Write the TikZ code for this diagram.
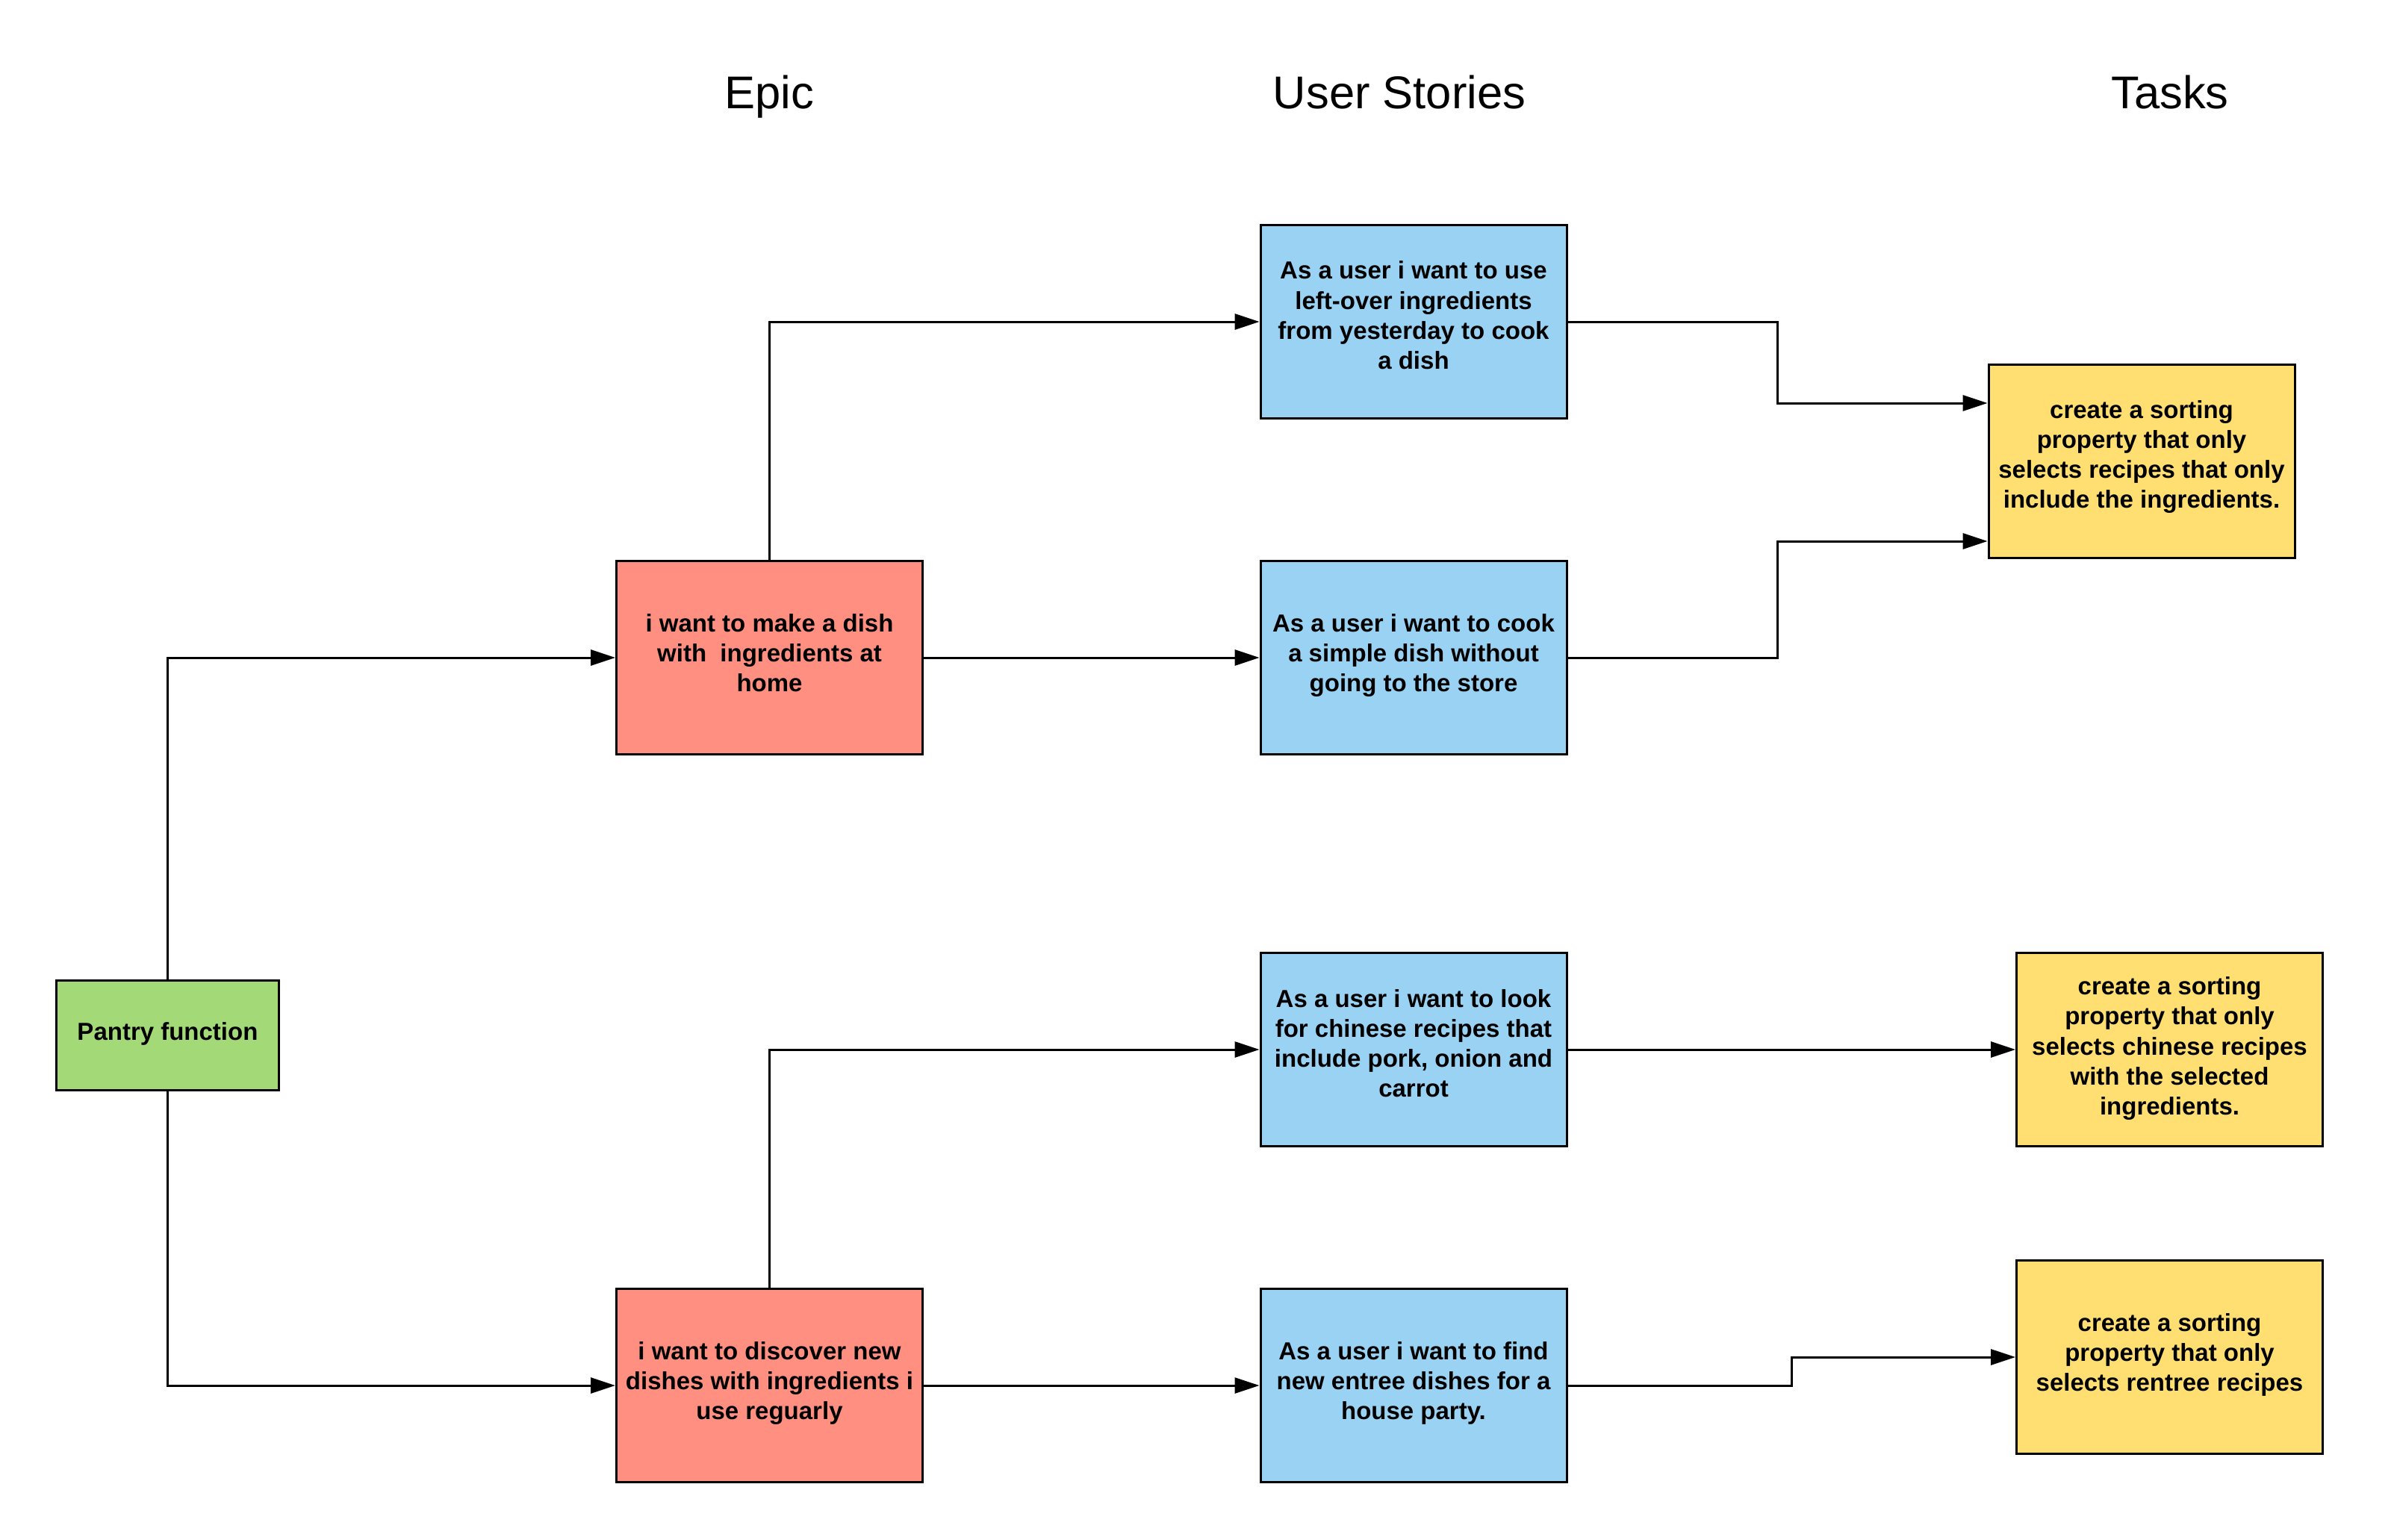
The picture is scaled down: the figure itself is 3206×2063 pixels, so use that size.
\documentclass[tikz,border=0pt]{standalone}
\usepackage{fontspec}
\setmainfont{Liberation Sans}
\usetikzlibrary{arrows.meta,calc}
\definecolor{pgreen}{HTML}{A4D977}
\definecolor{pred}{HTML}{FF8F80}
\definecolor{pblue}{HTML}{9AD2F3}
\definecolor{pyellow}{HTML}{FFDF71}
\newcommand{\boxlines}[2]{\raisebox{#1}[\height][\depth]{\begin{tabular}{@{}c@{}}#2\end{tabular}}}
\tikzset{
  box/.style={draw=black, line width=3pt, inner sep=0pt, align=center,
    minimum width=410pt, minimum height=259pt,
    font=\bfseries\fontsize{33}{40.3}\selectfont},
  epicbox/.style={box, fill=pred},
  storybox/.style={box, fill=pblue},
  taskbox/.style={box, fill=pyellow},
  pantrybox/.style={box, fill=pgreen, minimum width=298pt, minimum height=147pt},
  header/.style={anchor=base, inner sep=0pt, font=\fontsize{61.5}{70}\selectfont},
  conn/.style={draw=black, line width=3pt, -{Triangle[length=33pt,width=21pt]}}
}
\begin{document}
\begin{tikzpicture}[x=1pt,y=-1pt]
\useasboundingbox[fill=white] (0,0) rectangle (3206,2063);

\node[header] (hEpic) at (1030,146) {Epic};
\node[header] (hStories) at (1874,146) {User Stories};
\node[header] (hTasks) at (2906,146) {Tasks};

\node[pantrybox] (pantry) at (224.5,1387) {\boxlines{2pt}{Pantry function}};

\node[epicbox] (e1) at (1030.5,881) {\boxlines{2.5pt}{i want to make a dish\\with\ \ ingredients at\\home}};
\node[epicbox] (e2) at (1030.5,1856) {\boxlines{2.5pt}{i want to discover new\\dishes with ingredients i\\use reguarly}};

\node[storybox] (s1) at (1893,431) {\boxlines{4.7pt}{As a user i want to use\\left-over ingredients\\from yesterday to cook\\a dish}};
\node[storybox] (s2) at (1893,881) {\boxlines{2.5pt}{As a user i want to cook\\a simple dish without\\going to the store}};
\node[storybox] (s3) at (1893,1406) {\boxlines{4.6pt}{As a user i want to look\\for chinese recipes that\\include pork, onion and\\carrot}};
\node[storybox] (s4) at (1893,1856) {\boxlines{2.5pt}{As a user i want to find\\new entree dishes for a\\house party.}};

\node[taskbox] (t1) at (2868,618) {\boxlines{5.6pt}{create a sorting\\property that only\\selects recipes that only\\include the ingredients.}};
\node[taskbox] (t2) at (2905.5,1406) {\boxlines{0.8pt}{create a sorting\\property that only\\selects chinese recipes\\with the selected\\ingredients.}};
\node[taskbox] (t3) at (2905.5,1818) {\boxlines{2.5pt}{create a sorting\\property that only\\selects rentree recipes}};

\coordinate (bxA) at (2380,0);
\coordinate (bxB) at (2399,0);
\coordinate (t1in1) at ($(t1.north west)+(0,53)$);
\coordinate (t1in2) at ($(t1.south west)+(0,-24)$);

\draw[conn] (pantry.north) |- (e1.west);
\draw[conn] (pantry.south) |- (e2.west);
\draw[conn] (e1.north) |- (s1.west);
\draw[conn] (e1.east) -- (s2.west);
\draw[conn] (e2.north) |- (s3.west);
\draw[conn] (e2.east) -- (s4.west);
\draw[conn] (s1.east) -- (s1.east -| bxA) |- (t1in1);
\draw[conn] (s2.east) -- (s2.east -| bxA) |- (t1in2);
\draw[conn] (s3.east) -- (t2.west);
\draw[conn] (s4.east) -- (s4.east -| bxB) |- (t3.west);
\end{tikzpicture}
\end{document}
